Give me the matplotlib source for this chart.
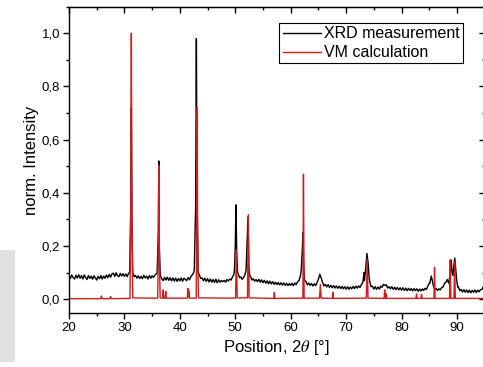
import numpy as np
import matplotlib
matplotlib.use("Agg")
import matplotlib.pyplot as plt
from matplotlib.ticker import MultipleLocator, FuncFormatter
from matplotlib.patches import Rectangle

plt.rcParams['font.family'] = ['Liberation Sans', 'DejaVu Sans']
plt.rcParams['mathtext.fontset'] = 'stix'

# measured background, one value every 0.25 deg from 20.0 to 95.0
bg_start = 20.0
bg_step = 0.25
meas_bg = [
    0.088, 0.078, 0.091, 0.081, 0.076, 0.090, 0.080, 0.092,  # 20
    0.079, 0.089, 0.076, 0.091, 0.082, 0.074, 0.089, 0.078,  # 22
    0.087, 0.075, 0.088, 0.080, 0.072, 0.086, 0.077, 0.089,  # 24
    0.076, 0.087, 0.079, 0.091, 0.081, 0.093, 0.083, 0.095,  # 26
    0.098, 0.086, 0.099, 0.088, 0.085, 0.097, 0.087, 0.096,  # 28
    0.086, 0.095, 0.085, 0.098, 0.200, 0.200, 0.097, 0.085,  # 30
    0.089, 0.079, 0.088, 0.078, 0.086, 0.077, 0.090, 0.080,  # 32
    0.087, 0.076, 0.089, 0.079, 0.088, 0.082, 0.091, 0.095,  # 34
    0.200, 0.200, 0.088, 0.076, 0.070, 0.082, 0.072, 0.083,  # 36
    0.071, 0.081, 0.069, 0.080, 0.068, 0.079, 0.067, 0.078,  # 38
    0.069, 0.080, 0.068, 0.079, 0.074, 0.070, 0.082, 0.073,  # 40
    0.085, 0.092, 0.100, 0.200, 0.200, 0.200, 0.093, 0.078,  # 42
    0.080, 0.069, 0.079, 0.067, 0.077, 0.065, 0.076, 0.064,  # 44
    0.074, 0.063, 0.075, 0.062, 0.073, 0.064, 0.070, 0.066,  # 46
    0.071, 0.064, 0.074, 0.068, 0.076, 0.072, 0.084, 0.093,  # 48
    0.200, 0.200, 0.098, 0.081, 0.084, 0.075, 0.082, 0.092,  # 50
    0.200, 0.200, 0.200, 0.085, 0.072, 0.077, 0.068, 0.074,  # 52
    0.066, 0.075, 0.064, 0.073, 0.062, 0.071, 0.060, 0.069,  # 54
    0.058, 0.068, 0.057, 0.066, 0.056, 0.064, 0.055, 0.063,  # 56
    0.054, 0.062, 0.053, 0.061, 0.052, 0.060, 0.051, 0.059,  # 58
    0.052, 0.060, 0.051, 0.061, 0.055, 0.066, 0.070, 0.088,  # 60
    0.200, 0.200, 0.200, 0.067, 0.054, 0.061, 0.052, 0.059,  # 62
    0.050, 0.058, 0.051, 0.063, 0.075, 0.094, 0.080, 0.063,  # 64
    0.050, 0.056, 0.046, 0.055, 0.044, 0.052, 0.043, 0.051,  # 66
    0.042, 0.050, 0.041, 0.049, 0.040, 0.048, 0.039, 0.047,  # 68
    0.038, 0.047, 0.037, 0.046, 0.039, 0.048, 0.040, 0.049,  # 70
    0.042, 0.050, 0.044, 0.055, 0.062, 0.100, 0.100, 0.100,  # 72
    0.100, 0.067, 0.047, 0.049, 0.038, 0.047, 0.037, 0.046,  # 74
    0.038, 0.049, 0.045, 0.056, 0.052, 0.054, 0.042, 0.047,  # 76
    0.039, 0.047, 0.037, 0.045, 0.036, 0.044, 0.035, 0.043,  # 78
    0.034, 0.043, 0.033, 0.042, 0.032, 0.041, 0.033, 0.040,  # 80
    0.031, 0.040, 0.032, 0.039, 0.030, 0.038, 0.031, 0.039,  # 82
    0.033, 0.041, 0.037, 0.050, 0.060, 0.080, 0.070, 0.050,  # 84
    0.036, 0.040, 0.033, 0.039, 0.035, 0.044, 0.046, 0.060,  # 86
    0.064, 0.074, 0.060, 0.100, 0.100, 0.100, 0.100, 0.100,  # 88
    0.080, 0.046, 0.032, 0.037, 0.027, 0.036, 0.026, 0.035,  # 90
    0.025, 0.034, 0.024, 0.033, 0.026, 0.035, 0.025, 0.034,  # 92
    0.028, 0.036, 0.037, 0.047, 0.052,                       # 94
]

# measured peaks as (2theta, intensity) points; they replace the background inside their span
meas_peaks = [
    [(30.95, 0.10), (31.15, 0.35), (31.25, 0.72), (31.35, 0.30), (31.50, 0.10)],
    [(35.90, 0.10), (36.12, 0.25), (36.20, 0.52), (36.30, 0.20), (36.45, 0.10)],
    [(42.60, 0.11), (42.85, 0.35), (42.98, 0.98), (43.10, 0.40), (43.30, 0.10)],
    [(49.85, 0.11), (50.00, 0.20), (50.12, 0.355), (50.25, 0.18), (50.40, 0.10)],
    [(51.95, 0.11), (52.15, 0.22), (52.30, 0.31), (52.45, 0.12), (52.60, 0.09)],
    [(61.90, 0.11), (62.10, 0.19), (62.20, 0.25), (62.35, 0.12), (62.50, 0.07)],
    [(73.30, 0.07), (73.55, 0.12), (73.75, 0.172), (73.95, 0.14), (74.15, 0.08)],
    [(85.10, 0.06), (85.35, 0.087), (85.55, 0.07), (85.75, 0.05)],
    [(88.60, 0.07), (88.80, 0.11), (88.95, 0.148), (89.10, 0.10), (89.25, 0.09),
     (89.45, 0.13), (89.60, 0.155), (89.75, 0.12), (89.95, 0.07), (90.15, 0.045)],
]

# calculated pattern (VM calculation)
calc_x = [20.0, 25.7, 25.85, 26.0, 27.35, 27.5, 27.65,
          31.0, 31.15, 31.25, 31.35, 31.5,
          36.0, 36.12, 36.2, 36.3, 36.45,
          36.9, 37.0, 37.1, 37.35, 37.45, 37.55,
          41.35, 41.45, 41.55, 41.62, 41.7,
          42.95, 43.05, 43.12, 43.2, 43.35,
          50.05, 50.2, 50.35,
          52.2, 52.35, 52.5,
          56.95, 57.05, 57.15,
          62.2, 62.3, 62.42,
          65.2, 65.35, 65.5,
          67.5, 67.6, 67.7,
          73.65, 73.8, 73.95,
          76.85, 76.95, 77.1, 77.25, 77.35,
          82.6, 82.7, 82.8, 83.5, 83.6, 83.7,
          85.85, 85.95, 86.05,
          88.65, 88.78, 88.9,
          89.45, 89.58, 89.7, 95.0]
calc_y = [0.002, 0.002, 0.012, 0.002, 0.002, 0.010, 0.002,
          0.003, 0.35, 1.0, 0.30, 0.005,
          0.004, 0.20, 0.502, 0.15, 0.005,
          0.004, 0.035, 0.004, 0.004, 0.030, 0.004,
          0.004, 0.040, 0.010, 0.030, 0.004,
          0.004, 0.30, 0.72, 0.25, 0.005,
          0.004, 0.185, 0.005,
          0.005, 0.318, 0.005,
          0.003, 0.026, 0.003,
          0.004, 0.47, 0.004,
          0.004, 0.055, 0.004,
          0.003, 0.026, 0.003,
          0.004, 0.15, 0.004,
          0.003, 0.035, 0.003, 0.020, 0.003,
          0.003, 0.020, 0.003, 0.003, 0.018, 0.003,
          0.003, 0.12, 0.003,
          0.003, 0.148, 0.003,
          0.003, 0.14, 0.003, 0.003]

xticks = [20, 30, 40, 50, 60, 70, 80, 90]
yticks = [0.0, 0.2, 0.4, 0.6, 0.8, 1.0]

# assemble measured curve
bg_x = bg_start + bg_step * np.arange(len(meas_bg))
keep = np.ones(len(meas_bg), bool)
px, py = [], []
for pk in meas_peaks:
    lo, hi = pk[0][0], pk[-1][0]
    keep &= ~((bg_x >= lo) & (bg_x <= hi))
    px += [p[0] for p in pk]
    py += [p[1] for p in pk]
mx = np.concatenate([bg_x[keep], px])
my = np.concatenate([np.array(meas_bg)[keep], py])
order = np.argsort(mx)
mx, my = mx[order], my[order]

fig = plt.figure(figsize=(4.83, 3.67), dpi=100)
fig.patches.append(Rectangle((0, 0.0136), 0.031, 0.305, transform=fig.transFigure,
                             facecolor='#e0e0e0', edgecolor='none', zorder=0))
ax = fig.add_axes([69 / 483, 53.7 / 367, 415.7 / 483, 306.6 / 367])

ax.plot(mx, my, color='black', lw=1.0, label='XRD measurement')
ax.plot(calc_x, calc_y, color='#d01c1c', lw=1.0, label='VM calculation')

ax.set_xlim(20, 95)
ax.set_ylim(-0.053, 1.1)
ax.set_xticks(xticks)
ax.set_yticks(yticks)
ax.xaxis.set_minor_locator(MultipleLocator(5))
ax.yaxis.set_minor_locator(MultipleLocator(0.1))
comma = FuncFormatter(lambda v, p: ('%.1f' % v).replace('.', ','))
ax.yaxis.set_major_formatter(comma)
ax.tick_params(which='both', direction='out', width=1.0, labelsize=9.5, pad=2.5)
ax.tick_params(which='major', length=4)
ax.tick_params(which='minor', length=2.5)
for s in ax.spines.values():
    s.set_linewidth(1.0)

top = ax.secondary_xaxis('top')
top.set_xticks(xticks)
top.xaxis.set_minor_locator(MultipleLocator(5))
top.tick_params(which='both', direction='in', labeltop=False, width=1.0)
top.tick_params(which='major', length=4)
top.tick_params(which='minor', length=2.5)
right = ax.secondary_yaxis('right')
right.set_yticks(yticks)
right.yaxis.set_minor_locator(MultipleLocator(0.1))
right.tick_params(which='both', direction='in', labelright=False, width=1.0)
right.tick_params(which='major', length=4)
right.tick_params(which='minor', length=2.5)

ax.set_xlabel(r'Position, 2$\theta$ [°]', fontsize=12, labelpad=3)
ax.set_ylabel('norm. Intensity', fontsize=12, labelpad=2)

leg = ax.legend(loc='upper right', bbox_to_anchor=(0.948, 0.947), fontsize=11.5,
                frameon=True, fancybox=False, framealpha=1, edgecolor='black',
                handlelength=2.4, handletextpad=0.2, labelspacing=0.25,
                borderpad=0.2, borderaxespad=0)
leg.get_frame().set_linewidth(0.8)

fig.savefig('out.png', dpi=100)
plt.close(fig)
